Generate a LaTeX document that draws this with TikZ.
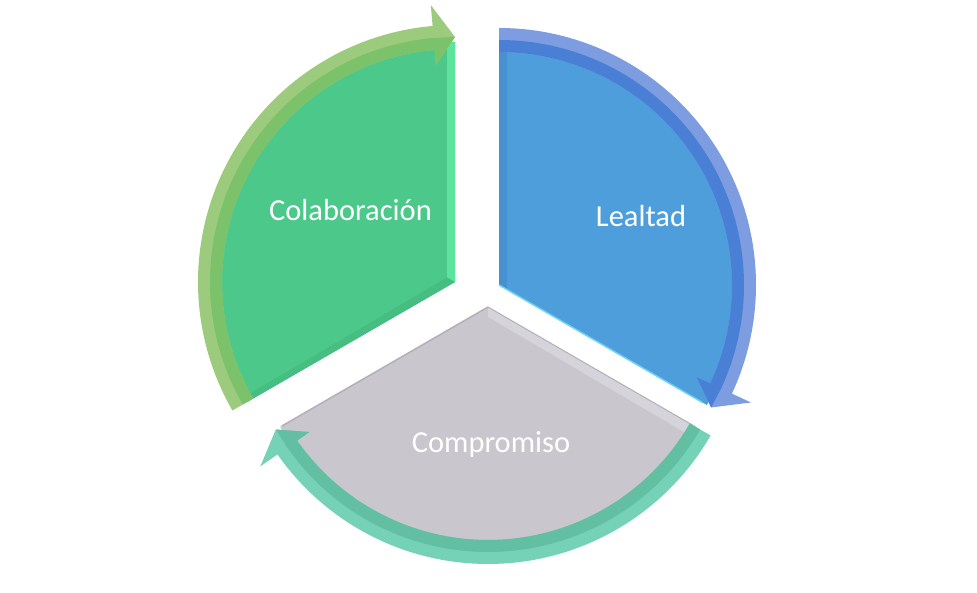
\documentclass[tikz,border=0pt]{standalone}
\usepackage{fontspec}
\setmainfont{Carlito}
\usetikzlibrary{calc}
\definecolor{gfill}{RGB}{76,201,138}
\definecolor{gedge}{RGB}{92,228,158}
\definecolor{gdark}{RGB}{70,190,130}
\definecolor{gbandL}{RGB}{157,203,126}
\definecolor{gbandD}{RGB}{124,194,107}
\definecolor{bfill}{RGB}{79,158,220}
\definecolor{bedge}{RGB}{72,145,208}
\definecolor{bline}{RGB}{110,210,245}
\definecolor{bbandL}{RGB}{126,156,224}
\definecolor{bbandD}{RGB}{74,127,214}
\definecolor{kfill}{RGB}{201,198,205}
\definecolor{kline}{RGB}{178,176,182}
\definecolor{klight}{RGB}{214,212,219}
\definecolor{tbandL}{RGB}{118,210,183}
\definecolor{tbandD}{RGB}{98,191,162}
\newcommand\cycarrow[4]{%
  % #1 tail angle, #2 tip angle, #3 light colour, #4 dark colour
  \fill[#3] (#1:257) arc[start angle=#1, end angle=#2+5, radius=257]
    -- (#2+5:278) -- (#2:245) -- (#2+5:218) -- (#2+5:233)
    arc[start angle=#2+5, end angle=#1, radius=233] -- cycle;
  \fill[#4] (#1:245) arc[start angle=#1, end angle=#2+5, radius=245]
    -- (#2:245) -- (#2+5:218) -- (#2+5:233)
    arc[start angle=#2+5, end angle=#1, radius=233] -- cycle;
}
\tikzset{lbl/.style={text=white, anchor=base, font=\fontsize{30.5}{36}\selectfont}}
\begin{document}
\begin{tikzpicture}[x=1pt,y=1pt]
\useasboundingbox (0,0) rectangle (977,593);
% green wedge
\begin{scope}[shift={(455,311)}]
  \coordinate (gc) at (0,0);
  \fill[gfill] (0,0) -- (90:240) arc[start angle=90, end angle=210, radius=240] -- cycle;
  \fill[gedge] (0,0) -- (90:240) -- ($(90:240)+(-8,0)$) -- (-8,4.6) -- cycle;
  \fill[gdark] (0,0) -- (-8,4.6) -- ($(210:240)+(2,8)$) -- (210:240) -- cycle;
  \cycarrow{210}{90}{gbandL}{gbandD}
\end{scope}
% blue wedge
\begin{scope}[shift={(499,308)}]
  \coordinate (bc) at (0,0);
  \fill[bfill] (0,0) -- (-30:240) arc[start angle=-30, end angle=90, radius=240] -- cycle;
  \fill[bedge] (0,0) -- (90:240) -- ($(90:240)+(8,0)$) -- (8,-4.6) -- cycle;
  \draw[bline, line width=1.5] (0,0) -- (-30:235);
  \cycarrow{90}{-30}{bbandL}{bbandD}
\end{scope}
% gray wedge
\begin{scope}[shift={(488,286)}]
  \coordinate (kc) at (0,0);
  \fill[kfill] (0,0) -- (210:240) arc[start angle=210, end angle=330, radius=240] -- cycle;
  \fill[klight] (0,0) -- (330:240) -- ($(330:240)+(-5,-9)$) -- (0,-10) -- cycle;
  \draw[kline, line width=1.5] (0,0) -- (210:238);
  \draw[kline, line width=1] (0,0) -- (330:238);
  \cycarrow{330}{210}{tbandL}{tbandD}
\end{scope}
\node[lbl] (col) at (350.5,372) {Colaboración};
\node[lbl] (lea) at (641,366) {Lealtad};
\node[lbl] (com) at (491,140) {Compromiso};
\end{tikzpicture}
\end{document}
